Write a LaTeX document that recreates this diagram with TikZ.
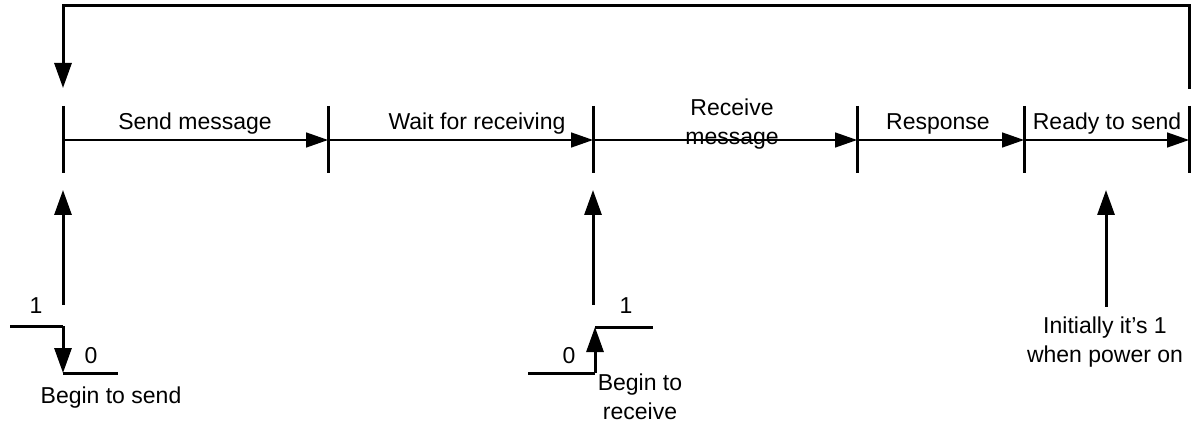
\documentclass[tikz,border=0pt]{standalone}
\usepackage{fontspec}
\setmainfont{Liberation Sans}
\usetikzlibrary{arrows.meta,positioning}
\tikzset{
  tick bar/.style={
    line width=3pt,
  },
  phase/.style={
    line width=1.5pt,
    -{Triangle[length=22pt,width=15pt]},
  },
  trigger/.style={
    line width=3pt,
    -{Triangle[length=25pt,width=17pt]},
  },
  level/.style={
    line width=3pt,
  },
  caption/.style={
    font=\fontsize{23}{29}\selectfont,
    inner sep=0pt,
    align=center,
    anchor=base,
  }
}

\begin{document}
\begin{tikzpicture}[x=1pt,y=1pt]
        \useasboundingbox (0,0) rectangle (1198,423);

        \coordinate (t0) at (63,283);
        \coordinate (t1) at (328,283);
        \coordinate (t2) at (593,283);
        \coordinate (t3) at (857,283);
        \coordinate (t4) at (1024,283);
        \coordinate (t5) at (1189,283);

        \draw [tick bar] ([yshift=34pt]t0) -- ([yshift=-33pt]t0);
        \draw [tick bar] ([yshift=34pt]t1) -- ([yshift=-33pt]t1);
        \draw [tick bar] ([yshift=34pt]t2) -- ([yshift=-33pt]t2);
        \draw [tick bar] ([yshift=34pt]t3) -- ([yshift=-33pt]t3);
        \draw [tick bar] ([yshift=34pt]t4) -- ([yshift=-33pt]t4);
        \draw [tick bar] ([yshift=34pt]t5) -- ([yshift=-33pt]t5);

        \draw [phase] (t0) -- (t1);
        \draw [phase] (t1) -- (t2);
        \draw [phase] (t2) -- (t3);
        \draw [phase] (t3) -- (t4);
        \draw [phase] (t4) -- (t5);

        \node [caption] (send) at (195,293) {Send message};
        \node [caption] (wait) at (477,293) {Wait for receiving};
        \node [caption] (receive) at (732,278) {Receive\\message};
        \node [caption] (response) at (938,293) {Response};
        \node [caption] (ready) at (1107,293) {Ready to send};

        \coordinate (loop start) at (1189,334);
        \coordinate (loop end) at (63,335);
        \draw [trigger] (loop start) -- ++(0,83) -| (loop end);

        \coordinate (send foot) at (63,118);
        \coordinate (send tip) at (63,233);
        \coordinate (recv foot) at (593,118);
        \coordinate (recv tip) at (593,233);
        \coordinate (power foot) at (1106,116);
        \coordinate (power tip) at (1106,233);
        \draw [trigger] (send foot) -- (send tip);
        \draw [trigger] (recv foot) -- (recv tip);
        \draw [trigger] (power foot) -- (power tip);

        \coordinate (s high) at (10,97);
        \coordinate (s edge top) at (63,97);
        \coordinate (s edge bottom) at (63,50);
        \coordinate (s low) at (118,50);
        \draw [level] (s high) -- (s edge top);
        \draw [trigger] (s edge top) -- (s edge bottom);
        \draw [level] (s edge bottom) -- (s low);

        \coordinate (r low) at (528,50);
        \coordinate (r edge bottom) at (595,50);
        \coordinate (r edge top) at (595,96);
        \coordinate (r high) at (653,96);
        \draw [level] (r low) -- (r edge bottom);
        \draw [trigger] (r edge bottom) -- (r edge top);
        \draw [level] (r edge top) -- (r high);

        \node [caption] (s one) at (36,110) {1};
        \node [caption] (s zero) at (91,60) {0};
        \node [caption] (s text) at (111,20) {Begin to send};
        \node [caption] (r zero) at (569,60) {0};
        \node [caption] (r one) at (626,110) {1};
        \node [caption] (r text) at (640,4) {Begin to\\receive};
        \node [caption] (power text) at (1105,61) {Initially it’s 1\\when power on};
      \end{tikzpicture}
\end{document}
